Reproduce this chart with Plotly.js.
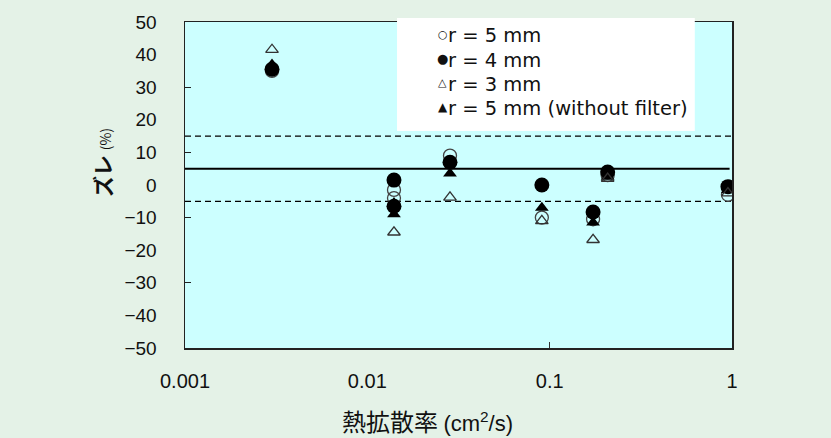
<!DOCTYPE html>
<html>
<head>
<meta charset="utf-8">
<script src="https://cdn.plot.ly/plotly-3.0.1.min.js"></script>
<style>
  html, body { margin: 0; padding: 0; background: #e4f2e7; }
  #chart { width: 831px; height: 438px; }
</style>
</head>
<body>
<div id="chart"></div>
<script>
// Thermal diffusivity (cm^2/s) of each sample, per measurement series
const xR5 = [0.003, 0.014, 0.014, 0.0284, 0.0906, 0.173, 0.208, 0.95];
const devR5 = [35, -1.5, -4, 9, -10, -10.5, 3, -3];

const xR4 = [0.003, 0.014, 0.014, 0.0284, 0.0906, 0.173, 0.208, 0.95];
const devR4 = [35.5, 1.5, -6.5, 7, 0, -8.3, 4, -0.5];

const xR3 = [0.003, 0.014, 0.0284, 0.0906, 0.173, 0.208, 0.95];
const devR3 = [41.5, -14.5, -3.8, -11, -16.8, 2, -2.5];

const xNoFilter = [0.003, 0.014, 0.014, 0.0284, 0.0906, 0.173, 0.208, 0.95];
const devNoFilter = [37, -5.5, -9, 3.5, -7, -11.5, 2.5, -1.5];

// Reference levels: mean offset and the +/-10 % band around it
const refX = [0.001, 0.97];
const refMean = [5, 5];
const refUpperX = [0.001, 1];
const refUpper = [15, 15];
const refLower = [-5, -5];

// Axis ticks
const xTickVals = [0.001, 0.01, 0.1, 1];
const xTickText = ['0.001', '0.01', '0.1', '1'];
const yTickVals = [-50, -40, -30, -20, -10, 0, 10, 20, 30, 40, 50];

// Legend entries: symbol glyph and label
const legendGlyphs = ['○', '●', '△', '▲'];
const legendGlyphSizes = [11, 13, 11, 12];
const legendLabels = ['r = 5 mm', 'r = 4 mm', 'r = 3 mm', 'r = 5 mm (without filter)'];

const traces = [
  { x: refX, y: refMean, mode: 'lines', line: { color: '#000', width: 2 }, hoverinfo: 'skip' },
  { x: refUpperX, y: refUpper, mode: 'lines', line: { color: '#000', width: 1.3, dash: '6px,4px' }, hoverinfo: 'skip' },
  { x: refUpperX, y: refLower, mode: 'lines', line: { color: '#000', width: 1.3, dash: '6px,4px' }, hoverinfo: 'skip' },
  { x: xR5, y: devR5, mode: 'markers', name: 'r = 5 mm',
    marker: { symbol: 'circle-open', size: 13, color: '#444', line: { width: 1.3, color: '#444' } } },
  { x: xNoFilter, y: devNoFilter, mode: 'markers', name: 'r = 5 mm (without filter)',
    marker: { symbol: 'triangle-up', size: 12, color: '#000' } },
  { x: xR4, y: devR4, mode: 'markers', name: 'r = 4 mm',
    marker: { symbol: 'circle', size: 15, color: '#000' } },
  { x: xR3, y: devR3, mode: 'markers', name: 'r = 3 mm',
    marker: { symbol: 'triangle-up-open', size: 11, color: '#333', line: { width: 1.3, color: '#333' } } }
];

const legendRowsY = [0.958, 0.883, 0.809, 0.735];
const annotations = [];
legendLabels.forEach((t, i) => {
  annotations.push({
    xref: 'paper', yref: 'paper', x: 0.4708, y: legendRowsY[i], yshift: 1.5,
    xanchor: 'center', yanchor: 'middle', showarrow: false, text: legendGlyphs[i],
    font: { family: 'DejaVu Sans', size: legendGlyphSizes[i], color: '#111' }
  });
  annotations.push({
    xref: 'paper', yref: 'paper', x: 0.4771, y: legendRowsY[i],
    xanchor: 'left', yanchor: 'middle', showarrow: false, text: t,
    font: { family: 'DejaVu Sans', size: 19.5, color: '#111' }
  });
});
annotations.push({
  xref: 'paper', yref: 'paper', x: -0.152, y: 0.57, textangle: -90,
  xanchor: 'center', yanchor: 'middle', showarrow: false,
  text: '<b>ズレ</b> <span style="font-size:14px">(%)</span>',
  font: { family: 'Noto Sans CJK JP', size: 21, color: '#111' }
});
annotations.push({
  xref: 'paper', yref: 'paper', x: 0.444, y: -0.221,
  xanchor: 'center', yanchor: 'middle', showarrow: false,
  text: '熱拡散率 <span style="font-family:Liberation Sans;font-size:22px">(cm<sup>2</sup>/s)</span>',
  font: { family: 'Noto Sans CJK JP', size: 24, color: '#111' }
});

const layout = {
  width: 831, height: 438,
  margin: { l: 185, r: 99, t: 22, b: 90 },
  paper_bgcolor: '#e4f2e7',
  plot_bgcolor: '#ccffff',
  showlegend: false,
  xaxis: {
    type: 'log', range: [-3, 0],
    tickmode: 'array', tickvals: xTickVals, ticktext: xTickText,
    ticks: '', ticklabelstandoff: 14,
    showgrid: false, zeroline: false,
    showline: true, mirror: true, linecolor: '#222', linewidth: 1.5,
    tickfont: { family: 'Liberation Sans', size: 20, color: '#111' },
    minor: { tickmode: 'array', tickvals: [0.1], ticks: 'inside', ticklen: 6, tickcolor: '#333', showgrid: false }
  },
  yaxis: {
    range: [-50, 50],
    tickmode: 'array', tickvals: yTickVals,
    ticks: '', ticklabelstandoff: 23,
    showgrid: false, zeroline: false,
    showline: true, mirror: true, linecolor: '#222', linewidth: 1.5,
    tickfont: { family: 'Liberation Sans, Arial', size: 19, color: '#111' },
    minor: { tickmode: 'array', tickvals: [-30, -10, 10, 30], ticks: 'inside', ticklen: 6, tickcolor: '#222', showgrid: false }
  },
  shapes: [{
    type: 'rect', xref: 'paper', yref: 'paper', layer: 'above',
    x0: 0.3876, x1: 0.932, y0: 0.6656, y1: 1.0123,
    fillcolor: '#ffffff', line: { width: 0 }
  }],
  annotations: annotations
};

Plotly.newPlot('chart', traces, layout, { displayModeBar: false, staticPlot: true });
</script>
</body>
</html>
